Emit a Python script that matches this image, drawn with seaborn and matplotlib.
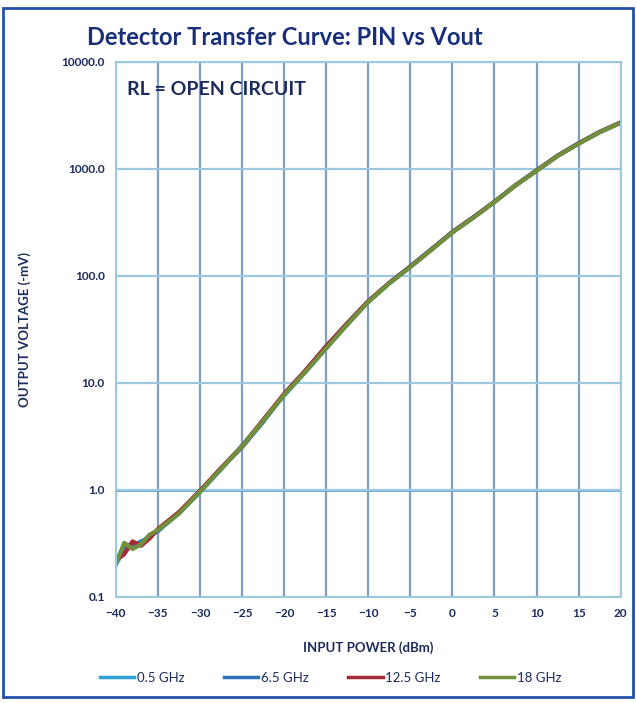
import pandas as pd
import numpy as np
import matplotlib.pyplot as plt
import seaborn as sns
from matplotlib.patches import Rectangle
from matplotlib.ticker import FixedLocator, FuncFormatter, NullLocator

# input power (dBm) and detector output (-mV) per frequency
pin = [-40, -39, -38, -37, -36, -35, -32.5, -30, -27.5, -25, -22.5, -20, -17.5, -15,
       -12.5, -10, -7.5, -5, -2.5, 0, 2.5, 5, 7.5, 10, 12.5, 15, 17.5, 20]
v_05 = [0.20, 0.27, 0.30, 0.33, 0.36, 0.42, 0.60, 0.95, 1.55, 2.6, 4.4, 7.6, 12.5, 21,
        35, 57, 85, 121, 175, 255, 350, 490, 700, 960, 1320, 1720, 2200, 2700]
v_65 = [0.21, 0.30, 0.31, 0.32, 0.37, 0.41, 0.61, 0.97, 1.58, 2.5, 4.3, 7.8, 12.8, 22,
        36, 58, 86, 123, 178, 258, 355, 495, 705, 970, 1330, 1740, 2220, 2720]
v_125 = [0.22, 0.25, 0.33, 0.30, 0.35, 0.43, 0.62, 0.98, 1.60, 2.55, 4.5, 7.9, 13.0, 22,
         36, 58, 86, 122, 176, 256, 352, 492, 702, 965, 1325, 1730, 2210, 2710]
v_18 = [0.20, 0.32, 0.28, 0.31, 0.38, 0.42, 0.60, 0.96, 1.56, 2.55, 4.4, 7.7, 12.6, 21,
        35, 57, 85, 121, 175, 255, 350, 490, 700, 960, 1320, 1720, 2200, 2700]
freqs = ['0.5 GHz', '6.5 GHz', '12.5 GHz', '18 GHz']
colors = ['#2ea3d6', '#2a72b5', '#a52a35', '#72903c']

df = pd.DataFrame({'pin': pin * 4,
                   'vout': v_05 + v_65 + v_125 + v_18,
                   'freq': np.repeat(freqs, len(pin))})

navy = '#1b2a5c'
plt.rcParams['font.family'] = ['Lato', 'DejaVu Sans']

fig = plt.figure(figsize=(6.36, 7.03), dpi=100)
ax = fig.add_axes([0.182, 0.151, 0.794, 0.761])

sns.lineplot(data=df, x='pin', y='vout', hue='freq', hue_order=freqs,
             palette=colors, linewidth=3, ax=ax, legend=True)

ax.set_yscale('log')
ax.set_ylim(0.1, 10000)
ax.set_xlim(-40, 20)
ax.yaxis.set_major_locator(FixedLocator([0.1, 1, 10, 100, 1000, 10000]))
ax.yaxis.set_minor_locator(NullLocator())
ax.yaxis.set_major_formatter(FuncFormatter(lambda v, p: f'{v:.1f}'))
ax.set_xticks(range(-40, 21, 5))

ax.grid(True, axis='x', color='#7f9fbf', linewidth=1.6)
ax.grid(True, axis='y', color='#9cc8e0', linewidth=1.6)
ax.axhline(1, color='#3a8fd0', linewidth=1.8, zorder=1)
for s in ax.spines.values():
    s.set_color('#9cc8e0')
    s.set_linewidth(1.5)
ax.tick_params(length=0, labelsize=8.5, labelcolor=navy, pad=8)
for lab in ax.get_xticklabels() + ax.get_yticklabels():
    lab.set_fontweight('bold')

ax.set_xlabel('INPUT POWER (dBm)', fontsize=9.5, fontweight='bold', color=navy, labelpad=16)
ax.set_ylabel('OUTPUT VOLTAGE (-mV)', fontsize=9.5, fontweight='bold', color=navy, labelpad=22)

ax.text(0.022, 0.948, 'RL = OPEN CIRCUIT', transform=ax.transAxes, fontsize=14,
        fontweight='bold', color=navy, va='center')
fig.text(0.448, 0.947, 'Detector Transfer Curve: PIN vs Vout', fontsize=17,
         fontweight='bold', color='#1a2f7a', ha='center', va='center')

handles, labels = ax.get_legend_handles_labels()
ax.get_legend().remove()
for h in handles:
    h.set_linewidth(2.5)
fig.legend(handles, labels, loc='center', bbox_to_anchor=(0.52, 0.036), ncol=4,
           frameon=False, fontsize=9.5, handlelength=2.6, handletextpad=0.2,
           columnspacing=3, labelcolor=navy)

fig.patches.append(Rectangle((0.004, 0.008), 0.992, 0.98, transform=fig.transFigure,
                             fill=False, edgecolor='#2350a8', linewidth=2))

fig.savefig('out.png', dpi=100)
